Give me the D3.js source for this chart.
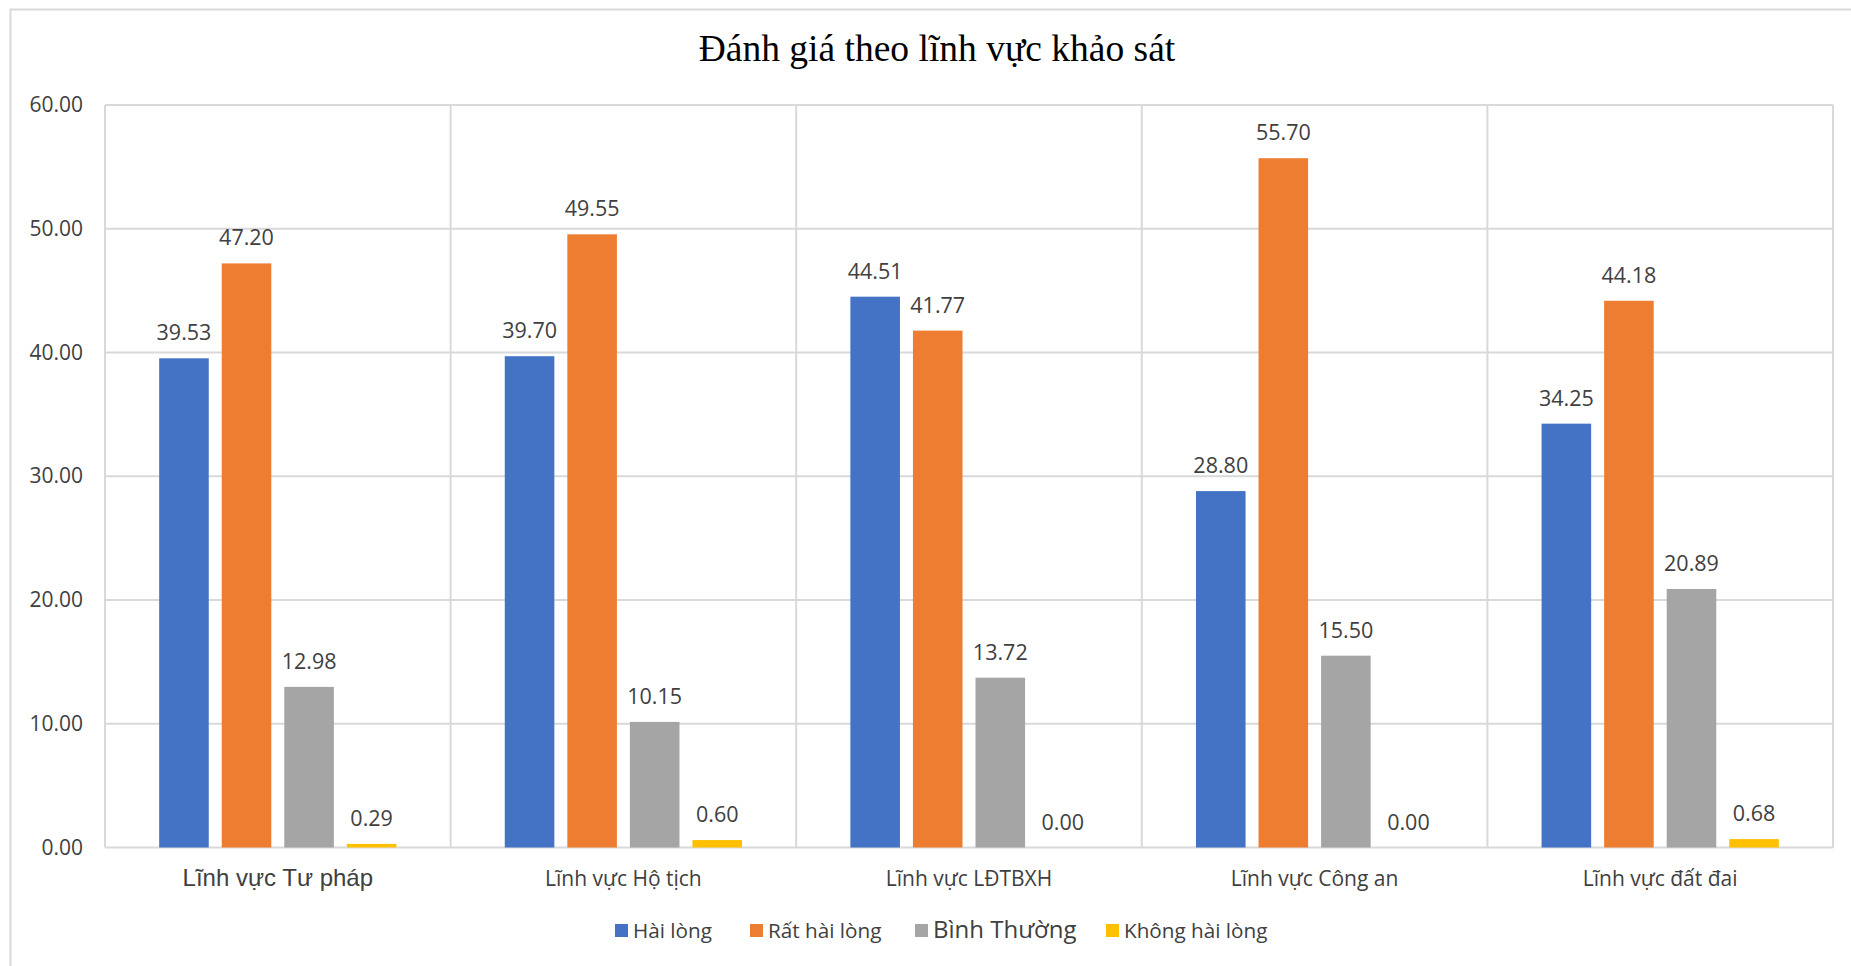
<!DOCTYPE html>
<html>
<head>
<meta charset="utf-8">
<script src="https://cdn.jsdelivr.net/npm/d3@7"></script>
<style>
  html, body { margin: 0; padding: 0; background: #fff; }
  svg { display: block; }
</style>
</head>
<body>
<svg id="chart" width="1851" height="966"></svg>
<script>
// Survey results by field
const categories = ["Lĩnh vực Tư pháp", "Lĩnh vực Hộ tịch", "Lĩnh vực LĐTBXH", "Lĩnh vực Công an", "Lĩnh vực đất đai"];
const seriesNames = ["Hài lòng", "Rất hài lòng", "Bình Thường", "Không hài lòng"];
const haiLong = [39.53, 39.70, 44.51, 28.80, 34.25];
const ratHaiLong = [47.20, 49.55, 41.77, 55.70, 44.18];
const binhThuong = [12.98, 10.15, 13.72, 15.50, 20.89];
const khongHaiLong = [0.29, 0.60, 0.00, 0.00, 0.68];
const yTicks = [0, 10, 20, 30, 40, 50, 60];
const colors = ["#4472C4", "#ED7D31", "#A5A5A5", "#FFC000"];

const seriesValues = [haiLong, ratHaiLong, binhThuong, khongHaiLong];
const rows = categories.map((c, i) => ({
  category: c,
  values: seriesNames.map((s, j) => ({ series: s, value: seriesValues[j][i], color: colors[j] }))
}));

const svg = d3.select("#chart");
const plot = { left: 105, right: 1833, top: 105, bottom: 847.5 };
const grid = "#D9D9D9";
const textColor = "#404040";
const numFont = "'Open Sans', sans-serif";

// outer chart frame (runs past the right and bottom edges)
svg.append("rect")
  .attr("x", 10.5).attr("y", 9.5)
  .attr("width", 1900).attr("height", 1000)
  .attr("fill", "none").attr("stroke", grid).attr("stroke-width", 2);

// title
svg.append("text")
  .attr("x", 937).attr("y", 61)
  .attr("text-anchor", "middle")
  .attr("font-family", "'Liberation Serif', 'Times New Roman', serif")
  .attr("font-size", 37.5)
  .attr("fill", "#000")
  .text("Đánh giá theo lĩnh vực khảo sát");

const y = d3.scaleLinear().domain([0, 60]).range([plot.bottom, plot.top]);
const x0 = d3.scaleBand().domain(categories).range([plot.left, plot.right])
  .paddingInner(0.3135).paddingOuter(0.15675);
const step = x0.step();
const x1 = d3.scaleBand().domain(seriesNames).range([0, x0.bandwidth()])
  .paddingInner(0.2075).paddingOuter(0);

// horizontal gridlines
svg.append("g")
  .selectAll("line").data(yTicks).join("line")
  .attr("x1", plot.left).attr("x2", plot.right)
  .attr("y1", d => y(d)).attr("y2", d => y(d))
  .attr("stroke", grid).attr("stroke-width", 2);

// vertical category separators (including plot edges)
const seps = d3.range(categories.length + 1).map(i => plot.left + i * step);
svg.append("g")
  .selectAll("line").data(seps).join("line")
  .attr("x1", d => d).attr("x2", d => d)
  .attr("y1", plot.top).attr("y2", plot.bottom)
  .attr("stroke", grid).attr("stroke-width", 2);

// y axis labels
const yAxis = d3.axisLeft(y).tickValues(yTicks).tickFormat(d3.format(".2f")).tickSize(0).tickPadding(22);
const yg = svg.append("g").attr("transform", `translate(${plot.left},0)`).call(yAxis);
yg.select(".domain").remove();
yg.selectAll("text")
  .attr("font-family", numFont).attr("font-size", 21).attr("fill", textColor);

// bars
const groups = svg.append("g").selectAll("g").data(rows).join("g")
  .attr("transform", d => `translate(${x0(d.category)},0)`);

groups.selectAll("rect").data(d => d.values).join("rect")
  .attr("x", d => x1(d.series))
  .attr("y", d => y(d.value))
  .attr("width", x1.bandwidth())
  .attr("height", d => y(0) - y(d.value))
  .attr("fill", d => d.color);

// value labels
groups.selectAll("text").data(d => d.values).join("text")
  .attr("x", d => x1(d.series) + x1.bandwidth() / 2)
  .attr("y", d => y(d.value) - 18)
  .attr("text-anchor", "middle")
  .attr("font-family", numFont).attr("font-size", 21.5).attr("fill", textColor)
  .text(d => d3.format(".2f")(d.value));

// category labels
const xAxis = d3.axisBottom(x0).tickSize(0).tickPadding(0);
const xg = svg.append("g").attr("transform", `translate(0,${plot.bottom})`).call(xAxis);
xg.select(".domain").remove();
xg.selectAll("text")
  .attr("dy", null)
  .attr("y", 38)
  .attr("font-family", (d, i) => i === 0 ? "'Liberation Sans', Arial, sans-serif" : numFont)
  .attr("font-size", (d, i) => i === 0 ? 24 : 21)
  .attr("fill", textColor);

// legend
const legendItems = [
  { name: seriesNames[0], color: colors[0], x: 615, size: 20.7 },
  { name: seriesNames[1], color: colors[1], x: 750, size: 20.7 },
  { name: seriesNames[2], color: colors[2], x: 915, size: 24 },
  { name: seriesNames[3], color: colors[3], x: 1106, size: 20.7 }
];
const lg = svg.append("g").selectAll("g").data(legendItems).join("g")
  .attr("transform", d => `translate(${d.x},931)`);
lg.append("rect").attr("x", 0).attr("y", -7).attr("width", 13).attr("height", 13).attr("fill", d => d.color);
lg.append("text").attr("x", 18).attr("y", 7)
  .attr("font-family", numFont).attr("font-size", d => d.size).attr("fill", textColor)
  .text(d => d.name);
</script>
</body>
</html>
